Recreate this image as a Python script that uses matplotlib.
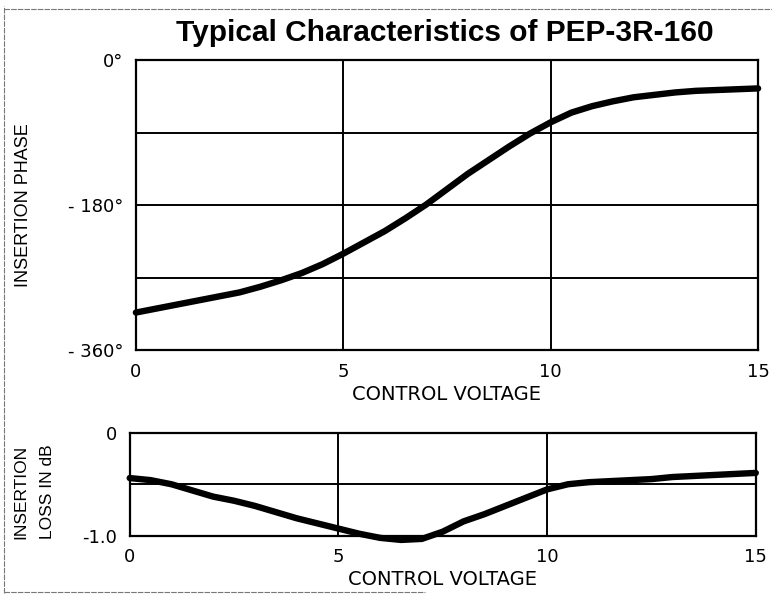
import matplotlib
matplotlib.use("Agg")
import matplotlib.pyplot as plt
from matplotlib.lines import Line2D

# ---- data ----
voltage = [0, 0.5, 1, 1.5, 2, 2.5, 3, 3.5, 4, 4.5, 5, 5.5, 6, 6.5, 7, 7.5,
           8, 8.5, 9, 9.5, 10, 10.5, 11, 11.5, 12, 12.5, 13, 13.5, 14, 14.5, 15]
phase = [-313, -308, -303, -298, -293, -288, -281, -273, -264, -253, -240,
         -226, -212, -196, -179, -160, -141, -124, -107, -91, -77, -65, -57,
         -51, -46, -43, -40, -38, -37, -36, -35]
loss = [-0.44, -0.46, -0.50, -0.56, -0.62, -0.66, -0.71, -0.77, -0.83, -0.88,
        -0.93, -0.98, -1.02, -1.04, -1.03, -0.96, -0.86, -0.79, -0.71, -0.63,
        -0.55, -0.50, -0.48, -0.47, -0.46, -0.45, -0.43, -0.42, -0.41, -0.40,
        -0.39]

x_ticks = [0, 5, 10, 15]
x_tick_labels = ["0", "5", "10", "15"]
x_grid = [5, 10]
phase_ticks = [0, -180, -360]
phase_tick_labels = ["0°", "- 180°", "- 360°"]
phase_grid = [-90, -180, -270]
loss_ticks = [0, -1.0]
loss_tick_labels = ["0", "-1.0"]
loss_grid = [-0.5]

title = "Typical Characteristics of PEP-3R-160"
xlabel = "CONTROL VOLTAGE"
phase_label = "INSERTION PHASE"
loss_label = "INSERTION\nLOSS IN dB"

# ---- figure ----
fig = plt.figure(figsize=(7.72, 5.96), dpi=100)
fig.patch.set_facecolor("white")

narrow = ["Liberation Sans Narrow", "Liberation Sans", "DejaVu Sans"]
round_font = ["DejaVu Sans"]

# scanned page border (left, top, bottom-left)
border_kw = dict(transform=fig.transFigure, color="#777777", linewidth=0.8,
                 linestyle=(0, (5, 1)))
fig.add_artist(Line2D([0.005, 0.005], [0.005, 0.99], **border_kw))
fig.add_artist(Line2D([0.005, 1.0], [0.985, 0.985], **border_kw))
fig.add_artist(Line2D([0.005, 0.55], [0.006, 0.006], **border_kw))

fig.text(0.576, 0.944, title, ha="center", va="center", fontsize=21.5,
         fontweight="bold", family=["Liberation Sans", "DejaVu Sans"])

def style(ax):
    for s in ax.spines.values():
        s.set_linewidth(1.6)
        s.set_color("black")
    ax.tick_params(length=0, pad=9, labelsize=13, labelfontfamily="DejaVu Sans")

# top axes
ax1 = fig.add_axes([0.176, 0.412, 0.806, 0.487])
for g in phase_grid:
    ax1.axhline(g, color="black", linewidth=1.4)
for g in x_grid:
    ax1.axvline(g, color="black", linewidth=1.4)
ax1.plot(voltage, phase, color="black", linewidth=4.6, solid_capstyle="round",
         clip_on=False, zorder=5)
ax1.set_xlim(0, 15)
ax1.set_ylim(-360, 0)
ax1.set_xticks(x_ticks)
ax1.set_xticklabels(x_tick_labels)
ax1.set_yticks(phase_ticks)
ax1.set_yticklabels(phase_tick_labels)
style(ax1)
ax1.set_xlabel(xlabel, family=round_font, fontsize=14, labelpad=3)

# bottom axes
ax2 = fig.add_axes([0.168, 0.101, 0.811, 0.173])
for g in loss_grid:
    ax2.axhline(g, color="black", linewidth=1.4)
for g in x_grid:
    ax2.axvline(g, color="black", linewidth=1.4)
ax2.plot(voltage, loss, color="black", linewidth=4.6, solid_capstyle="round",
         clip_on=False, zorder=5)
ax2.set_xlim(0, 15)
ax2.set_ylim(-1.0, 0)
ax2.set_xticks(x_ticks)
ax2.set_xticklabels(x_tick_labels)
ax2.set_yticks(loss_ticks)
ax2.set_yticklabels(loss_tick_labels)
style(ax2)
ax2.set_xlabel(xlabel, family=round_font, fontsize=14, labelpad=3)

# y axis titles placed in figure coordinates
fig.text(0.030, 0.656, phase_label, rotation=90, ha="center", va="center",
         family=narrow, fontsize=13)
fig.text(0.044, 0.175, loss_label, rotation=90, ha="center", va="center",
         family=narrow, fontsize=12.5, linespacing=1.95, multialignment="center")

fig.savefig("out.png", dpi=100, facecolor="white")
